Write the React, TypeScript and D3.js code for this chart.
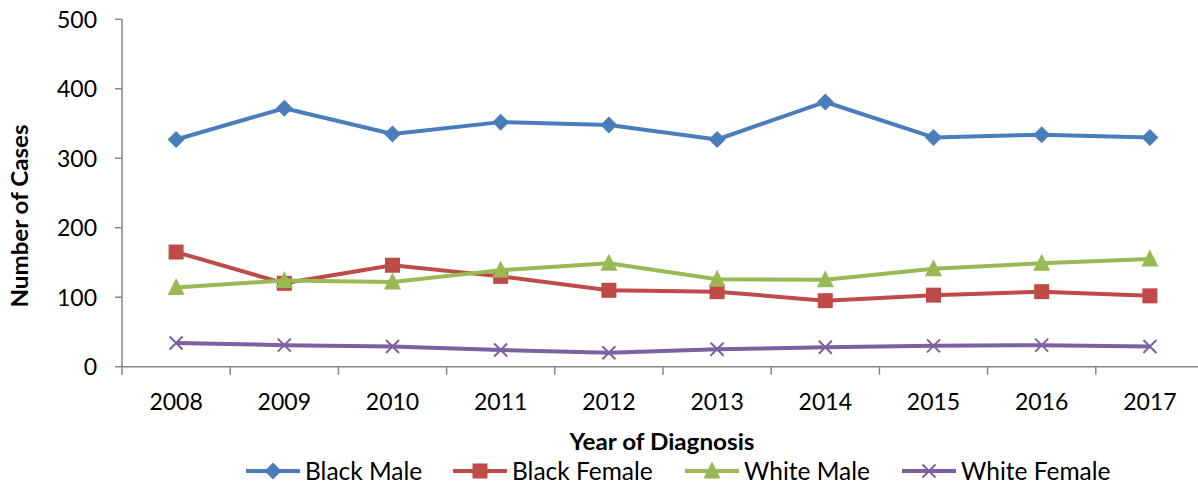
import React, { useEffect, useRef } from "react";
import * as d3 from "d3";

const years = ["2008", "2009", "2010", "2011", "2012", "2013", "2014", "2015", "2016", "2017"];
const blackMale = [327, 372, 335, 352, 348, 327, 381, 330, 334, 330];
const blackFemale = [165, 120, 146, 130, 110, 108, 95, 103, 108, 102];
const whiteMale = [114, 124, 122, 139, 149, 126, 125, 141, 149, 155];
const whiteFemale = [34, 31, 29, 24, 20, 25, 28, 30, 31, 29];
const yTicks = [0, 100, 200, 300, 400, 500];

const seriesNames = ["Black Male", "Black Female", "White Male", "White Female"];
const seriesColors = ["#4A7EBB", "#BE4B48", "#98B954", "#7D60A0"];
const seriesSymbols = ["diamond", "square", "triangle", "x"];

const FONT = "Lato, 'Open Sans', sans-serif";

function drawMarker(g: d3.Selection<SVGGElement, unknown, null, undefined>, kind: string, x: number, y: number, color: string) {
  if (kind === "diamond") {
    const s = 8.5;
    g.append("path")
      .attr("d", `M${x},${y - s}L${x + s},${y}L${x},${y + s}L${x - s},${y}Z`)
      .attr("fill", color);
  } else if (kind === "square") {
    const s = 7.5;
    g.append("rect").attr("x", x - s).attr("y", y - s).attr("width", 2 * s).attr("height", 2 * s).attr("fill", color);
  } else if (kind === "triangle") {
    const s = 8.5;
    g.append("path")
      .attr("d", `M${x},${y - s - 1}L${x + s},${y + s - 1}L${x - s},${y + s - 1}Z`)
      .attr("fill", color);
  } else {
    const s = 6.5;
    g.append("path")
      .attr("d", `M${x - s},${y - s}L${x + s},${y + s}M${x - s},${y + s}L${x + s},${y - s}`)
      .attr("stroke", color)
      .attr("stroke-width", 2)
      .attr("fill", "none");
  }
}

export default function App() {
  const ref = useRef<SVGSVGElement>(null);

  useEffect(() => {
    const svg = d3.select(ref.current);
    svg.selectAll("*").remove();

    const left = 122;
    const right = 1204;
    const top = 19.3;
    const bottom = 366.7;

    const x = d3.scaleBand<string>().domain(years).range([left, right]);
    const y = d3.scaleLinear().domain([0, 500]).range([bottom, top]);
    const axisColor = "#868686";

    const g = svg.append("g");

    // y axis
    g.append("line").attr("x1", left).attr("x2", left).attr("y1", top).attr("y2", bottom)
      .attr("stroke", axisColor).attr("stroke-width", 1.5);
    yTicks.forEach((t) => {
      g.append("line").attr("x1", left - 7).attr("x2", left).attr("y1", y(t)).attr("y2", y(t))
        .attr("stroke", axisColor).attr("stroke-width", 1.5);
      g.append("text").attr("x", 97).attr("y", y(t)).attr("dy", "0.36em")
        .attr("text-anchor", "end").attr("font-family", FONT).attr("font-size", 23)
        .attr("fill", "#000").text(t);
    });

    // x axis
    g.append("line").attr("x1", left).attr("x2", right).attr("y1", bottom).attr("y2", bottom)
      .attr("stroke", axisColor).attr("stroke-width", 1.5);
    years.forEach((yr) => {
      const x0 = x(yr)!;
      g.append("line").attr("x1", x0).attr("x2", x0).attr("y1", bottom).attr("y2", bottom + 8)
        .attr("stroke", axisColor).attr("stroke-width", 1.5);
      g.append("text").attr("x", x0 + x.bandwidth() / 2).attr("y", 402).attr("dy", "0.36em")
        .attr("text-anchor", "middle").attr("font-family", FONT).attr("font-size", 23)
        .attr("fill", "#000").text(yr);
    });

    // axis titles
    g.append("text").attr("x", 662).attr("y", 442).attr("dy", "0.36em")
      .attr("text-anchor", "middle").attr("font-family", FONT).attr("font-size", 23)
      .attr("font-weight", "bold").attr("textLength", 185).attr("lengthAdjust", "spacingAndGlyphs")
      .text("Year of Diagnosis");
    g.append("text").attr("transform", "translate(20,216) rotate(-90)").attr("dy", "0.36em")
      .attr("text-anchor", "middle").attr("font-family", FONT).attr("font-size", 23)
      .attr("font-weight", "bold").attr("textLength", 183).attr("lengthAdjust", "spacingAndGlyphs")
      .text("Number of Cases");

    const allSeries = [blackMale, blackFemale, whiteMale, whiteFemale];
    const line = d3.line<number>()
      .x((_, i) => x(years[i])! + x.bandwidth() / 2)
      .y((d) => y(d));

    allSeries.forEach((vals, si) => {
      const color = seriesColors[si];
      g.append("path").datum(vals).attr("d", line).attr("fill", "none")
        .attr("stroke", color).attr("stroke-width", 4).attr("stroke-linejoin", "round");
      const mg = g.append("g");
      vals.forEach((v, i) => {
        drawMarker(mg, seriesSymbols[si], x(years[i])! + x.bandwidth() / 2, y(v), color);
      });
    });

    // legend
    const legendY = 471;
    const legendX = [246, 453, 685, 902];
    seriesNames.forEach((name, si) => {
      const lx = legendX[si];
      const color = seriesColors[si];
      g.append("line").attr("x1", lx).attr("x2", lx + 54).attr("y1", legendY).attr("y2", legendY)
        .attr("stroke", color).attr("stroke-width", 4);
      drawMarker(g, seriesSymbols[si], lx + 27, legendY, color);
      g.append("text").attr("x", lx + 59).attr("y", legendY).attr("dy", "0.36em")
        .attr("font-family", FONT).attr("font-size", 24.5).attr("fill", "#000").text(name);
    });
  }, []);

  return (
    <svg
      ref={ref}
      width={1198}
      height={485}
      style={{ position: "absolute", left: 0, top: 0, background: "#fff" }}
    />
  );
}
